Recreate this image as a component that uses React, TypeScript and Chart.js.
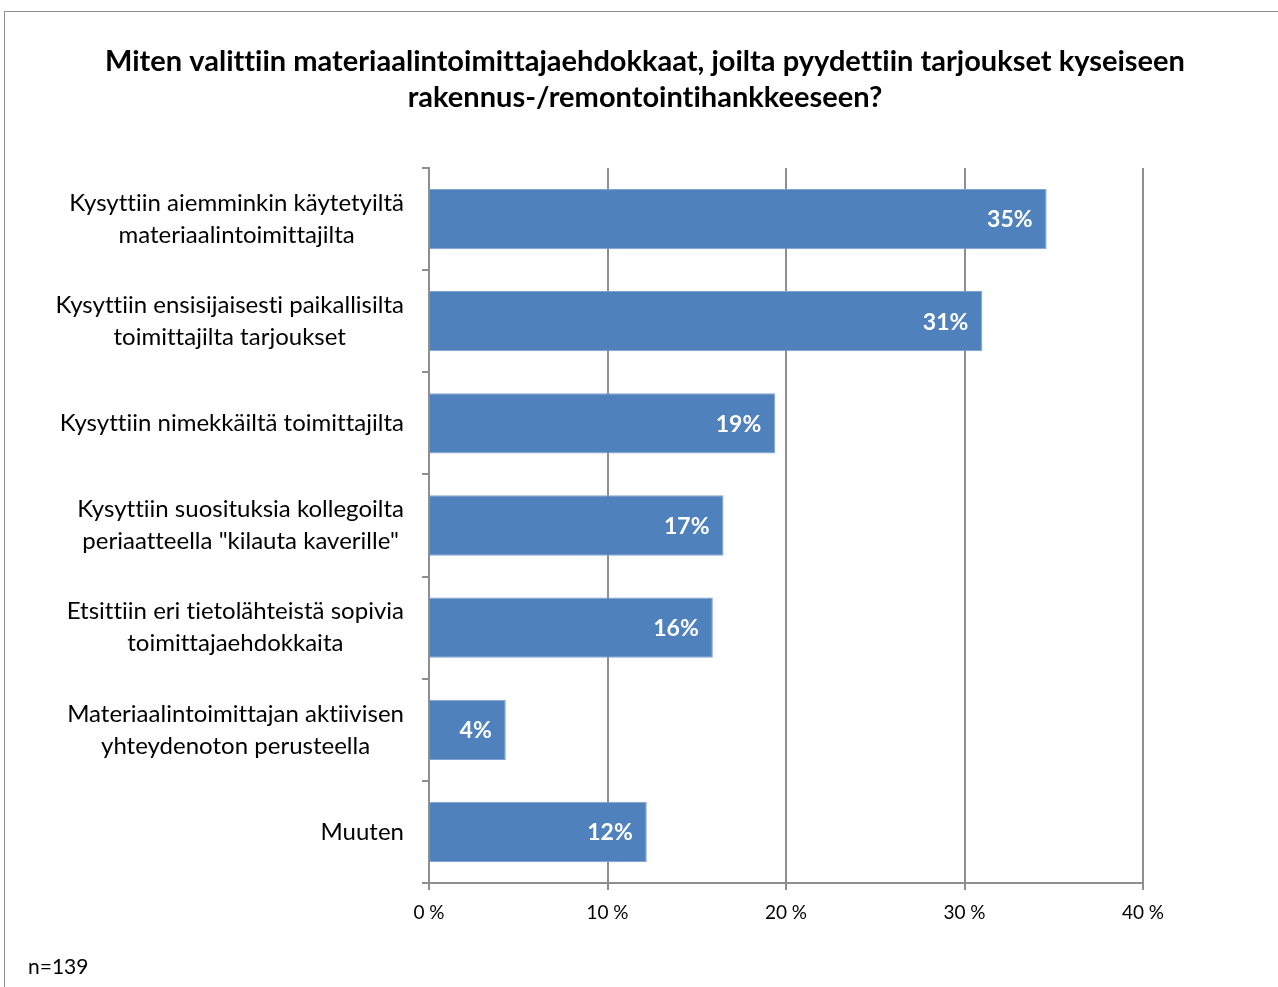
import React, { useEffect, useRef } from "react";
import { Chart, registerables } from "chart.js";

Chart.register(...registerables);

const titleLines = [
  "Miten valittiin materiaalintoimittajaehdokkaat, joilta pyydettiin tarjoukset kyseiseen",
  "rakennus-/remontointihankkeeseen?",
];

const categories: string[][] = [
  ["Kysyttiin aiemminkin käytetyiltä", "materiaalintoimittajilta"],
  ["Kysyttiin ensisijaisesti paikallisilta", "toimittajilta tarjoukset"],
  ["Kysyttiin nimekkäiltä toimittajilta"],
  ["Kysyttiin suosituksia kollegoilta", "periaatteella \"kilauta kaverille\""],
  ["Etsittiin eri tietolähteistä sopivia", "toimittajaehdokkaita"],
  ["Materiaalintoimittajan aktiivisen", "yhteydenoton perusteella"],
  ["Muuten"],
];

const values = [34.6, 31.0, 19.4, 16.5, 15.9, 4.3, 12.2];

const xTicks = [0, 10, 20, 30, 40];

const footnote = "n=139";

const FONT = "Lato, 'Open Sans', sans-serif";
const GRAY = "#8E8E8E";

function noLig(ctx: any) {
  try {
    ctx.letterSpacing = "0.01px";
  } catch (e) {}
}

export default function App() {
  const ref = useRef<HTMLCanvasElement | null>(null);

  useEffect(() => {
    const canvas = ref.current;
    if (!canvas) return;

    const textPlugin = {
      id: "texts",
      afterDraw(chart: any) {
        const ctx = chart.ctx;
        const yScale = chart.scales.y;
        ctx.save();
        noLig(ctx);
        // title
        ctx.font = `bold 29px ${FONT}`;
        ctx.fillStyle = "#000";
        ctx.textAlign = "center";
        ctx.textBaseline = "middle";
        titleLines.forEach((l, i) => ctx.fillText(l, 640, 50 + i * 36));
        // y labels
        ctx.font = `24px ${FONT}`;
        const rightEdge = yScale.right - 25;
        const lh = 32;
        categories.forEach((lines, i) => {
          const cy = yScale.getPixelForValue(i);
          const maxW = Math.max(...lines.map((l) => ctx.measureText(l).width));
          const cx = rightEdge - maxW / 2;
          const y0 = cy - ((lines.length - 1) * lh) / 2;
          lines.forEach((l, j) => ctx.fillText(l, cx, y0 + j * lh));
        });
        // footnote
        ctx.font = `21px ${FONT}`;
        ctx.textAlign = "left";
        ctx.fillText(footnote, 23, 955);
        ctx.restore();
      },
    };

    const valueLabelPlugin = {
      id: "valueLabels",
      afterDatasetsDraw(chart: any) {
        const ctx = chart.ctx;
        const meta = chart.getDatasetMeta(0);
        ctx.save();
        noLig(ctx);
        ctx.font = `bold 23px ${FONT}`;
        ctx.fillStyle = "#fff";
        ctx.textAlign = "right";
        ctx.textBaseline = "middle";
        meta.data.forEach((bar: any, i: number) => {
          ctx.fillText(`${Math.round(values[i])}%`, bar.x - 14, bar.y + 1);
        });
        ctx.restore();
      },
    };

    const chart = new Chart(canvas, {
      type: "bar",
      data: {
        labels: categories.map((c) => c.join(" ")),
        datasets: [
          {
            data: values,
            backgroundColor: "#4F81BD",
            borderColor: "#7FA3D3",
            borderWidth: 1,
            barPercentage: 0.59,
            categoryPercentage: 1,
          },
        ],
      },
      options: {
        indexAxis: "y",
        animation: false,
        responsive: false,
        devicePixelRatio: 1,
        layout: { padding: { left: 0, right: 142, top: 156, bottom: 44 } },
        plugins: {
          legend: { display: false },
          tooltip: { enabled: false },
          title: { display: false },
        },
        scales: {
          x: {
            min: 0,
            max: 40,
            afterBuildTicks: (scale: any) => {
              scale.ticks = xTicks.map((v) => ({ value: v }));
            },
            afterFit: (scale: any) => {
              scale.height = 60;
            },
            ticks: {
              callback: (v: any) => `${v} %`,
              color: "#000",
              font: { family: FONT, size: 19 },
              padding: 11,
            },
            grid: {
              color: GRAY,
              lineWidth: 2,
              tickLength: 7,
              drawTicks: true,
            },
            border: { color: GRAY, width: 2 },
          },
          y: {
            afterFit: (scale: any) => {
              scale.width = 424;
            },
            ticks: { callback: () => "" },
            grid: {
              drawOnChartArea: false,
              drawTicks: true,
              tickLength: 7,
              color: GRAY,
              lineWidth: 2,
              offset: true,
            },
            border: { color: GRAY, width: 2 },
          },
        },
      },
      plugins: [textPlugin, valueLabelPlugin],
    } as any);

    return () => chart.destroy();
  }, []);

  return (
    <div
      style={{
        position: "fixed",
        left: 0,
        top: 0,
        width: 1278,
        height: 987,
        overflow: "hidden",
        background: "#fff",
      }}
    >
      <div
        style={{
          position: "absolute",
          left: 4,
          top: 11,
          width: 1300,
          height: 1000,
          border: "1px solid #8E8E8E",
        }}
      >
        <canvas
          ref={ref}
          width={1280}
          height={975}
          style={{ position: "absolute", left: 0, top: 0, width: 1280, height: 975 }}
        />
      </div>
    </div>
  );
}
